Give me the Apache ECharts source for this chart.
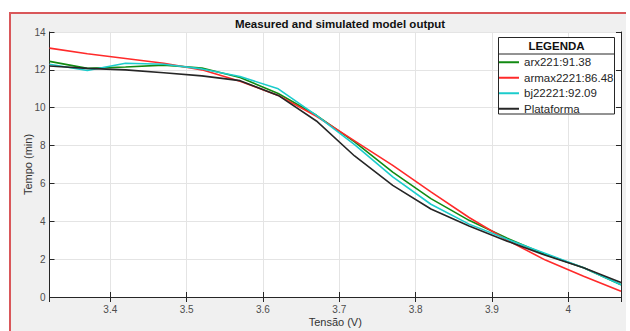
<!DOCTYPE html>
<html>
<head>
<meta charset="utf-8">
<script src="https://cdn.jsdelivr.net/npm/echarts@6/dist/echarts.min.js"></script>
<style>
html,body{margin:0;padding:0;background:#fff;}
#wrap{position:relative;width:630px;height:331px;overflow:hidden;background:#fff;}
#frame{position:absolute;left:9px;top:12px;width:615px;height:330px;background:#f0f0f0;border-left:2px solid #d9575a;border-top:2px solid #d9575a;}
#chart{position:absolute;left:0;top:0;width:630px;height:331px;}
</style>
</head>
<body>
<div id="wrap"><div id="frame"></div><div id="chart"></div></div>
<script>
// Data (x = Tensão (V), y = Tempo (min))
const xVals = [3.3204, 3.37, 3.42, 3.47, 3.52, 3.57, 3.62, 3.67, 3.72, 3.77, 3.82, 3.87, 3.92, 3.97, 4.02, 4.069];
const arx221 =     [12.45, 12.08, 12.15, 12.25, 12.10, 11.60, 10.75, 9.60, 8.20, 6.60, 5.20, 4.05, 3.10, 2.25, 1.55, 0.65];
const armax2221 =  [13.15, 12.85, 12.60, 12.35, 12.00, 11.40, 10.65, 9.55, 8.25, 6.95, 5.55, 4.20, 3.00, 1.95, 1.10, 0.30];
const bj22221 =    [12.30, 11.97, 12.35, 12.30, 12.05, 11.65, 11.00, 9.60, 8.05, 6.35, 4.90, 3.85, 3.05, 2.30, 1.55, 0.65];
const plataforma = [12.20, 12.08, 12.00, 11.85, 11.68, 11.43, 10.65, 9.30, 7.45, 5.90, 4.65, 3.75, 2.95, 2.20, 1.55, 0.77];
const seriesNames = ['arx221:91.38', 'armax2221:86.48', 'bj22221:92.09', 'Plataforma'];
const seriesColors = ['#128a12', '#ff2a2a', '#1ccccc', '#262626'];
const xMin = 3.3204, xMax = 4.069, yMin = 0, yMax = 14, yStep = 2;
const titleText = 'Measured and simulated model output';
const xName = 'Tensão (V)', yName = 'Tempo (min)', legendTitle = 'LEGENDA';

const allSeries = [arx221, armax2221, bj22221, plataforma];
const pair = arr => xVals.map((x, i) => [x, arr[i]]);

const chart = echarts.init(document.getElementById('chart'), null, {renderer: 'svg'});
const font = 'Liberation Sans, Arial, Helvetica, sans-serif';
const axisColor = '#262626';
const gridColor = '#e4e4e4';

const baseX = {
  type: 'value', min: xMin, max: xMax, splitNumber: 7, minInterval: 0.1, maxInterval: 0.1,
  axisLine: {show: true, lineStyle: {color: axisColor, width: 1}},
  axisTick: {show: true, inside: true, length: 5, lineStyle: {color: axisColor}},
  splitLine: {show: false},
  axisLabel: {show: false}
};
const baseY = {
  type: 'value', min: yMin, max: yMax, interval: yStep,
  axisLine: {show: true, lineStyle: {color: axisColor, width: 1}},
  axisTick: {show: true, inside: true, length: 5, lineStyle: {color: axisColor}},
  splitLine: {show: false},
  axisLabel: {show: false}
};

chart.setOption({
  backgroundColor: 'transparent',
  animation: false,
  title: {
    text: titleText, left: 335, top: 13, textAlign: 'center',
    textStyle: {fontFamily: font, fontSize: 11.5, fontWeight: 'bold', color: '#111'}
  },
  grid: {left: 49.5, right: 9, top: 32, bottom: 34, show: true, backgroundColor: '#ffffff', borderWidth: 0,
    containLabel: false, outerBoundsMode: 'none'},
  xAxis: [
    Object.assign({}, baseX, {
      position: 'bottom',
      splitLine: {show: true, lineStyle: {color: gridColor, width: 1}},
      axisLabel: {show: true, color: '#4d4d4d', fontFamily: font, fontSize: 10, margin: 7,
        showMinLabel: false, showMaxLabel: false,
        formatter: v => (Math.abs(v - 4) < 1e-9 ? '4' : v.toFixed(1))},
      name: xName, nameLocation: 'middle', nameGap: 19, nameMoveOverlap: false,
      nameTextStyle: {color: '#333', fontFamily: font, fontSize: 11}
    }),
    Object.assign({}, baseX, {position: 'top'})
  ],
  yAxis: [
    Object.assign({}, baseY, {
      position: 'left',
      splitLine: {show: true, lineStyle: {color: gridColor, width: 1}},
      axisLabel: {show: true, color: '#4d4d4d', fontFamily: font, fontSize: 10, margin: 4},
      name: yName, nameLocation: 'middle', nameGap: 16, nameMoveOverlap: false,
      nameTextStyle: {color: '#333', fontFamily: font, fontSize: 11}
    }),
    Object.assign({}, baseY, {position: 'right'})
  ],
  legend: {
    orient: 'vertical', left: 499, top: 55,
    itemWidth: 20, itemHeight: 2, itemGap: 1,
    icon: 'rect', padding: 0,
    data: seriesNames,
    textStyle: {fontFamily: font, fontSize: 11.5, color: '#262626', lineHeight: 14.5}
  },
  graphic: [
    {type: 'rect', shape: {x: 498.5, y: 37.5, width: 116, height: 76.5}, style: {fill: '#ffffff', stroke: '#262626', lineWidth: 1}, z: 1},
    {type: 'line', shape: {x1: 498.5, y1: 54, x2: 614.5, y2: 54}, style: {stroke: '#262626', lineWidth: 1}, z: 2},
    {type: 'text', x: 556.5, y: 46, style: {text: legendTitle, textAlign: 'center', textVerticalAlign: 'middle', font: 'bold 11.5px ' + font, fill: '#111'}, z: 2}
  ],
  series: allSeries.map((arr, i) => ({
    name: seriesNames[i], type: 'line', xAxisIndex: 0, yAxisIndex: 0,
    data: pair(arr), showSymbol: false, symbol: 'none', smooth: false,
    lineStyle: {color: seriesColors[i], width: 1.6},
    itemStyle: {color: seriesColors[i]}
  }))
});
</script>
</body>
</html>
